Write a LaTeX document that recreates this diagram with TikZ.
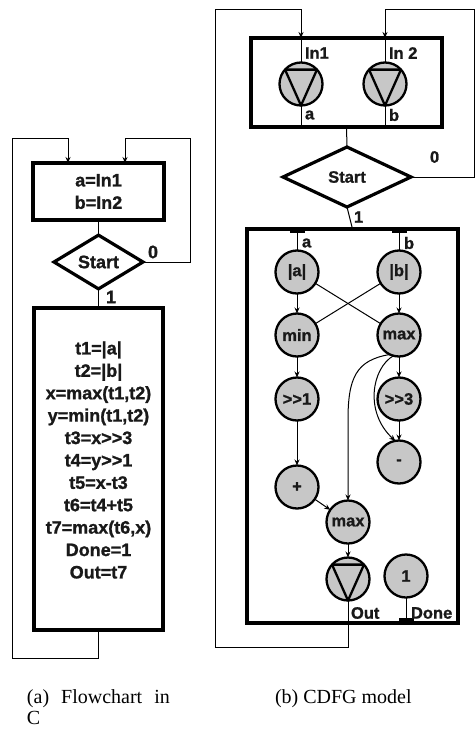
\documentclass[tikz,border=0pt]{standalone}
\usepackage{fontspec}
\setmainfont{Liberation Serif}
\setsansfont{Liberation Sans}[BoldFeatures={FakeBold=1.2}]
\usetikzlibrary{shapes.geometric,arrows.meta}
\begin{document}
\begin{tikzpicture}[x=1pt,y=-1pt,
  every node/.style={inner sep=0pt, outer sep=0pt, text=black!90},
  thickbox/.style={draw, rectangle, line width=3.2pt},
  dia/.style={draw, diamond, line width=3.2pt, inner sep=0pt},
  op/.style={circle, draw, line width=2.3pt, fill=black!22, minimum size=43pt, font=\fontsize{16.5}{18}\sffamily\bfseries},
  tri/.style={line width=2.3pt, line join=round},
  conn/.style={line width=1pt},
  arr/.style={conn, -{Stealth[length=6pt,width=5pt]}},
  lbl/.style={font=\fontsize{16.5}{18}\sffamily\bfseries},
  lblL/.style={font=\fontsize{18}{22.4}\sffamily\bfseries, align=center},
  captxt/.style={font=\fontsize{20}{22}\rmfamily, anchor=base west, text=black},
  port/.style={rectangle, fill=black, draw=none, minimum width=15pt, minimum height=4pt}
]
\useasboundingbox (0,0) rectangle (475,736);

% ---------------- (a) flowchart ----------------
\node[thickbox, minimum width=131pt, minimum height=57pt, lblL] (b1) at (98.5,191.5) {a=In1\\b=In2};
\node[dia, minimum width=89pt, minimum height=50pt, lblL] (s1) at (98.5,262) {Start};
\node[thickbox, minimum width=129pt, minimum height=322pt] (bb1) at (98.5,469) {};
\node[lblL] (code) at (98.5,460) {t1=|a|\\t2=|b|\\x=max(t1,t2)\\y=min(t1,t2)\\t3=x>{}>3\\t4=y>{}>1\\t5=x-t3\\t6=t4+t5\\t7=max(t6,x)\\Done=1\\Out=t7};

\draw[conn] (b1.south) -- (s1.north);
\draw[conn] (s1.south) -- (bb1.north);
\node[lblL, anchor=west] (one1) at (106,297) {1};
\draw[arr] (s1.east) -- (190,262) -- (190,138) -- (125,138) -- ([xshift=26.5pt]b1.north);
\node[lblL, anchor=west] (zero1) at (148,252) {0};
\draw[arr] (bb1.south) -- (98.5,658) -- (12,658) -- (12,138) -- (68,138) -- ([xshift=-30.5pt]b1.north);

% ---------------- (b) CDFG ----------------
\node[thickbox, minimum width=191pt, minimum height=89pt] (tb) at (346.5,82.5) {};
\node[op] (in1) at (301,84) {};
\node[op] (in2) at (385,84) {};
\draw[tri] (in1.42) -- (in1.138) -- (in1.south) -- cycle;
\draw[tri] (in2.42) -- (in2.138) -- (in2.south) -- cycle;
\draw[conn] ([xshift=-45.5pt]tb.north) -- (in1.north);
\draw[conn] ([xshift=38.5pt]tb.north) -- (in2.north);
\draw[conn] (in1.south) -- ([xshift=-45.5pt]tb.south);
\draw[conn] (in2.south) -- ([xshift=38.5pt]tb.south);
\node[lbl, anchor=west] (lin1) at (305,53) {In1};
\node[lbl, anchor=west] (lin2) at (389,53) {In 2};
\node[lbl, anchor=west] (la0) at (305,115) {a};
\node[lbl, anchor=west] (lb0) at (389,115) {b};

\node[dia, minimum width=128pt, minimum height=60pt, lbl] (s2) at (347,177) {Start};
\draw[conn] (tb.south) -- (s2.north);
\node[lbl, anchor=west] (zero2) at (430,157) {0};
\node[lbl, anchor=west] (one2) at (354,217) {1};

\node[thickbox, minimum width=211pt, minimum height=394pt] (bb2) at (352.5,426) {};
\draw[conn] (s2.south) -- (bb2.north);

\node[port] (pa) at (297,231) {};
\node[port] (pb) at (399,231) {};
\node[lbl, anchor=west] (la) at (302,243) {a};
\node[lbl, anchor=west] (lb) at (404,243) {b};

\node[op] (absa) at (297,272) {|a|};
\node[op] (absb) at (399,272) {|b|};
\node[op] (min) at (297,335) {min};
\node[op] (max) at (399,335) {max};
\node[op] (shr1) at (297,399) {>{}>1};
\node[op] (shr3) at (399,399) {>{}>3};
\node[op] (minus) at (399,462) {-};
\node[op] (plus) at (297,487) {+};
\node[op] (max2) at (348,522) {max};
\node[op] (out) at (348,579) {};
\draw[tri] (out.42) -- (out.138) -- (out.south) -- cycle;
\node[op] (one) at (406,576) {1};
\node[port] (pd) at (406,620) {};
\node[lbl, anchor=west] (lout) at (351,613) {Out};
\node[lbl, anchor=west] (ldone) at (411,613) {Done};

\draw[conn] (pa) -- (absa.north);
\draw[conn] (pb) -- (absb.north);
\draw[arr] (absa) -- (min);
\draw[arr] (absb) -- (max);
\draw[conn] (absa) -- (max);
\draw[conn] (absb) -- (min);
\draw[arr] (min) -- (shr1);
\draw[arr] (max) -- (shr3);
\draw[arr] (shr3) -- (minus);
\draw[arr] (max.255) .. controls (372,368) and (364,412) .. (minus.100);
\draw[arr] (max.245) .. controls (356,360) and (348,378) .. (348,420) -- (max2.north);
\draw[arr] (shr1) -- (plus);
\draw[arr] (plus) -- (max2);
\draw[arr] (max2) -- (out);
\draw[conn] (one.south) -- (pd);

\draw[arr] (out.south) -- (348,647) -- (215,647) -- (215,9) -- (301,9) -- ([xshift=-45.5pt]tb.north);
\draw[arr] (s2.east) -- (474.5,177) -- (474.5,9) -- (385,9) -- ([xshift=38.5pt]tb.north);

% ---------------- captions ----------------
\node[captxt] (capa) at (27,703) {(a)\hspace{0.6em}Flowchart\hspace{0.6em}in};
\node[captxt] (capa2) at (27,724) {C};
\node[captxt] (capb) at (275,703) {(b) CDFG model};
\end{tikzpicture}
\end{document}
